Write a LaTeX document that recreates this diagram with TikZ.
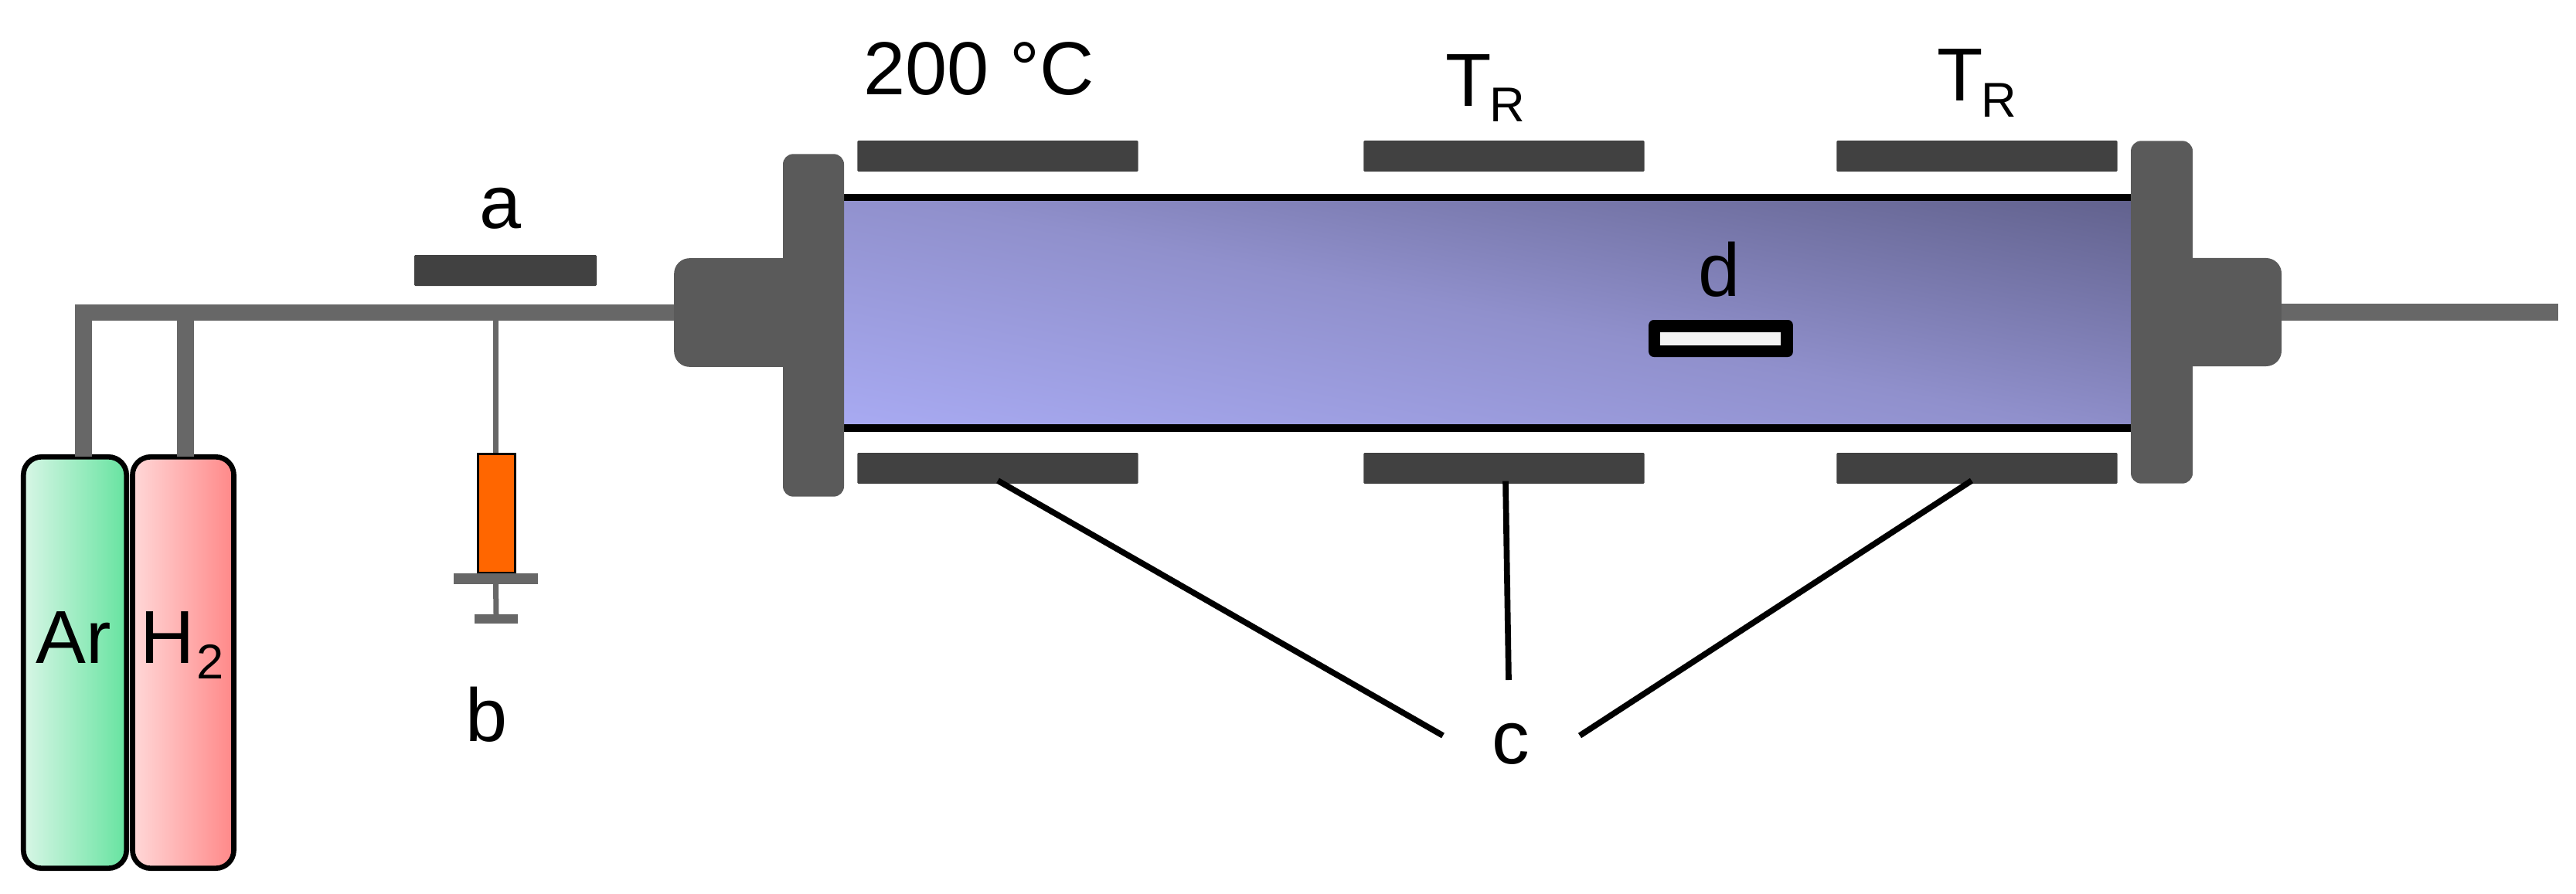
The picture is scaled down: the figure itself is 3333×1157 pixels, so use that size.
\documentclass[tikz,border=0pt]{standalone}
\usepackage{fontspec}
\setmainfont{Liberation Sans}
\definecolor{heater}{HTML}{414141}
\definecolor{flange}{HTML}{5A5A5A}
\definecolor{pipe}{HTML}{676767}
\definecolor{tubelight}{HTML}{A8AAF2}
\definecolor{tubemid}{HTML}{9090CC}
\definecolor{tubedark}{HTML}{62628E}
\definecolor{arleft}{HTML}{D8F6E6}
\definecolor{arright}{HTML}{66E3A0}
\definecolor{hyleft}{HTML}{FFD8D8}
\definecolor{hyright}{HTML}{FF8888}
\pgfdeclareverticalshading{tubeshade}{1536bp}{color(0bp)=(tubelight); color(256bp)=(tubemid); color(512bp)=(tubedark)}
\tikzset{
  x=0.03cm, y=-0.03cm,
  box/.style={inner sep=0pt, outer sep=0pt},
  heaterbar/.style={box, fill=heater, minimum width=10.9cm, minimum height=1.2cm, rounded corners=0.04cm},
  flangeplate/.style={box, fill=flange, rounded corners=0.4cm},
  cyl/.style={box, draw=black, line width=0.2cm, rounded corners=0.7cm, minimum height=15.97cm},
  pipeline/.style={draw=pipe, line width=0.64cm},
  thinline/.style={draw=pipe, line width=0.21cm},
  lbl/.style={box, font=\fontsize{83}{90}\selectfont, text=black},
  sublbl/.style={box, font=\fontsize{54}{60}\selectfont, text=black},
  leader/.style={draw=black, line width=0.23cm}
}
\begin{document}
\begin{tikzpicture}
\useasboundingbox (0,0) rectangle (3333,1157);

% tube interior
\begin{scope}
  \clip (1092,255) rectangle (2757,555);
  \node[box, rotate=-11] (tubefill) at (1924.5,405) {\pgfuseshading{tubeshade}};
\end{scope}
\coordinate (tl) at (1092,255.5);
\coordinate (tr) at (2757,255.5);
\coordinate (bl) at (1092,554);
\coordinate (br) at (2757,554);
\draw[black, line width=0.28cm] (tl) -- (tr);
\draw[black, line width=0.28cm] (bl) -- (br);

% gas lines
\coordinate (pstart) at (97,404.5);
\coordinate (arA) at (108,394);
\coordinate (hyA) at (240,394);
\coordinate (synA) at (641,404.5);

% cylinders
\node[cyl, left color=arleft, right color=arright, minimum width=4.0cm] (ar) at (97,857.5) {};
\node[cyl, left color=hyleft, right color=hyright, minimum width=3.93cm] (hy) at (237,857.5) {};

\node[box, fill=flange, rounded corners=0.6cm, minimum width=5.33cm, minimum height=4.22cm] (lblock) at (961,404.5) {};
\node[box, fill=flange, rounded corners=0.6cm, minimum width=5.16cm, minimum height=4.2cm] (rblock) at (2866,404) {};
\node[flangeplate, minimum width=2.37cm, minimum height=13.3cm] (lflange) at (1052.5,421) {};
\node[flangeplate, minimum width=2.4cm, minimum height=13.3cm] (rflange) at (2797,404) {};

\draw[pipeline] (pstart) -- (lblock.west);
\draw[pipeline] (rblock.east) -- ++(358,0) coordinate (pend);
\draw[pipeline] (arA) -- (ar.north -| arA);
\draw[pipeline] (hyA) -- (hy.north -| hyA);
\draw[thinline] (synA) -- (641,588);

% syringe
\node[box, draw=black, line width=0.09cm, fill=orange!80!red, minimum width=1.45cm, minimum height=4.6cm] (syr) at (642.5,664.5) {};
\node[box, fill=pipe, minimum width=3.27cm, minimum height=0.42cm] (sflange) at (641.5,749) {};
\node[box, fill=pipe, minimum width=1.68cm, minimum height=0.36cm] (sbase) at (642,801) {};
\draw[thinline] (sflange.south) -- (sbase.north);

% heaters
\node[box, fill=heater, rounded corners=0.04cm, minimum width=7.08cm, minimum height=1.2cm] (ha) at (654,350) {};
\node[heaterbar] (ht1) at (1291,202) {};
\node[heaterbar] (ht2) at (1946,202) {};
\node[heaterbar] (ht3) at (2558,202) {};
\node[heaterbar] (hb1) at (1291,606) {};
\node[heaterbar] (hb2) at (1946,606) {};
\node[heaterbar] (hb3) at (2558,606) {};

% sample
\node[box, fill=black, rounded corners=0.2cm, minimum width=5.6cm, minimum height=1.44cm] (sample) at (2226.5,438) {};
\node[box, fill=white!95!black, minimum width=4.68cm, minimum height=0.52cm] (sampleinner) at (2226,438.5) {};

% labels
\node[lbl, anchor=base] (la) at (648,295) {a};
\node[lbl, anchor=base] (lb) at (630,959) {b};
\node[lbl, anchor=base] (lc) at (1955,988) {c};
\node[lbl, anchor=base] (ld) at (2225,383) {d};
\node[lbl, anchor=base] (lar) at (95,858) {Ar};
\node[lbl, anchor=base west] (lh) at (181,858) {H};
\node[sublbl, anchor=base west, xshift=0.1cm, yshift=-0.6cm] (lhs) at (lh.base east) {2};
\node[lbl, anchor=base] (l200) at (1267,123) {200 °C};
\node[lbl, anchor=base west] (ltr1) at (1870,138) {T};
\node[sublbl, anchor=base west] (ltr1s) at (1927,158) {R};
\node[lbl, anchor=base west] (ltr2) at (2506,131) {T};
\node[sublbl, anchor=base west] (ltr2s) at (2563,152) {R};

% leaders
\coordinate (c1) at (1867,952);
\coordinate (c2) at (1952,880);
\coordinate (c3) at (2044,952);
\draw[leader] ([yshift=0.12cm]hb1.south) -- (c1);
\draw[leader] ([xshift=0.06cm,yshift=0.1cm]hb2.south) -- (c2);
\draw[leader] ([xshift=-0.21cm,yshift=0.12cm]hb3.south) -- (c3);
\end{tikzpicture}
\end{document}
